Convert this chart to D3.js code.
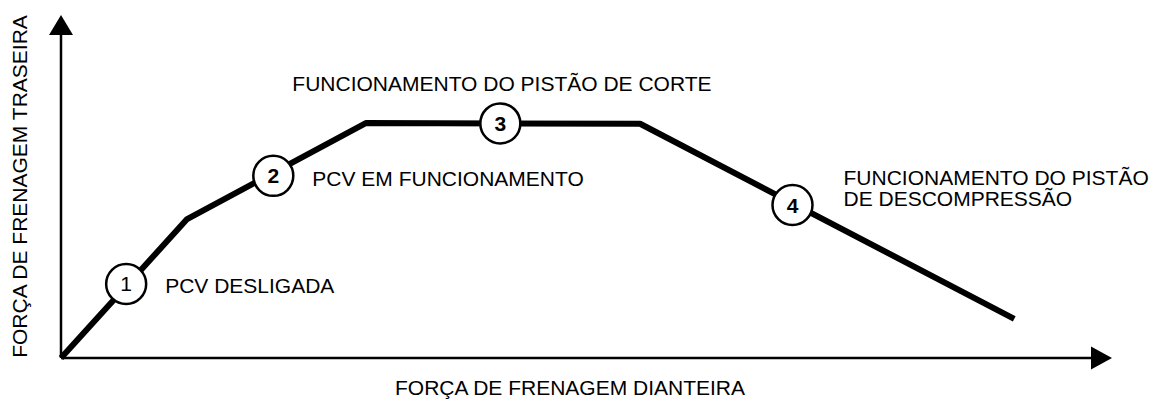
<!DOCTYPE html>
<html>
<head>
<meta charset="utf-8">
<script src="https://cdn.jsdelivr.net/npm/d3@7"></script>
<style>
  html, body { margin: 0; padding: 0; background: #fff; }
  svg { display: block; }
  text { font-family: "Liberation Sans", Arial, sans-serif; fill: #000; }
</style>
</head>
<body>
<svg id="chart" width="1158" height="399"></svg>
<script>
// ---- data ----
const curveX = [0, 12.0, 29.0, 55.1, 90.7];
const curveY = [0, 40.5, 68.5, 68.3, 11.4];
const stageIds = ["1", "2", "3", "4"];
const stageX = [6.2, 20.2, 41.8, 69.6];
const stageY = [21.6, 53.1, 68.4, 44.6];
const stageLabels = [
  ["PCV DESLIGADA"],
  ["PCV EM FUNCIONAMENTO"],
  ["FUNCIONAMENTO DO PISTÃO DE CORTE"],
  ["FUNCIONAMENTO DO PISTÃO", "DE DESCOMPRESSÃO"]
];
const xTitle = "FORÇA DE FRENAGEM DIANTEIRA";
const yTitle = "FORÇA DE FRENAGEM TRASEIRA";

// ---- layout ----
const svg = d3.select("#chart");
const x = d3.scaleLinear().domain([0, 100]).range([61, 1112]);
const y = d3.scaleLinear().domain([0, 100]).range([358, 15]);
const fontSize = 21;

// axes (no ticks), with arrowheads
const xAxisEnd = 1091, yAxisEnd = 35;
svg.append("line").attr("x1", x(0)).attr("y1", y(0)).attr("x2", xAxisEnd).attr("y2", y(0))
  .attr("stroke", "#000").attr("stroke-width", 2.5);
svg.append("line").attr("x1", x(0)).attr("y1", y(0)).attr("x2", x(0)).attr("y2", yAxisEnd)
  .attr("stroke", "#000").attr("stroke-width", 2.5);
svg.append("path")
  .attr("d", `M${x(100)},${y(0)} L${xAxisEnd},${y(0) - 11.5} L${xAxisEnd},${y(0) + 11.5} Z`)
  .attr("fill", "#000");
svg.append("path")
  .attr("d", `M${x(0)},${y(100)} L${x(0) - 12},${yAxisEnd} L${x(0) + 12},${yAxisEnd} Z`)
  .attr("fill", "#000");

// main curve
const pts = curveX.map((v, i) => [v, curveY[i]]);
svg.append("path")
  .datum(pts)
  .attr("d", d3.line().x(d => x(d[0])).y(d => y(d[1])))
  .attr("fill", "none").attr("stroke", "#000").attr("stroke-width", 6)
  .attr("stroke-linejoin", "round").attr("stroke-linecap", "butt");

// stage circles
const stages = stageIds.map((id, i) => ({ id, x: stageX[i], y: stageY[i], label: stageLabels[i] }));
const g = svg.selectAll("g.stage").data(stages).enter().append("g").attr("class", "stage");
g.append("circle")
  .attr("cx", d => x(d.x)).attr("cy", d => y(d.y)).attr("r", 20)
  .attr("fill", "#fff").attr("stroke", "#000").attr("stroke-width", 2.5);
g.append("text")
  .attr("x", d => x(d.x)).attr("y", d => y(d.y) + 7.5)
  .attr("text-anchor", "middle")
  .style("font-size", "21px").style("font-weight", (d, i) => i === 0 ? "normal" : "bold")
  .text(d => d.id);

// stage labels (placement offsets relative to circles, in pixels)
const labelPlace = [
  { dx: 39, dy: 9 },
  { dx: 39, dy: 10 },
  { dx: -208, dy: -32 },
  { dx: 51, dy: -20 }
];
g.each(function (d, i) {
  const t = d3.select(this).append("text")
    .attr("x", x(d.x) + labelPlace[i].dx)
    .attr("y", y(d.y) + labelPlace[i].dy)
    .style("font-size", fontSize + "px");
  d.label.forEach((line, j) => {
    t.append("tspan").attr("x", x(d.x) + labelPlace[i].dx)
      .attr("dy", j === 0 ? 0 : 21).text(line);
  });
});

// axis titles
svg.append("text")
  .attr("x", 570).attr("y", 395)
  .attr("text-anchor", "middle").style("font-size", fontSize + "px")
  .text(xTitle);
svg.append("text")
  .attr("transform", "translate(26.5,186.5) rotate(-90)")
  .attr("text-anchor", "middle").style("font-size", fontSize + "px")
  .text(yTitle);
</script>
</body>
</html>
